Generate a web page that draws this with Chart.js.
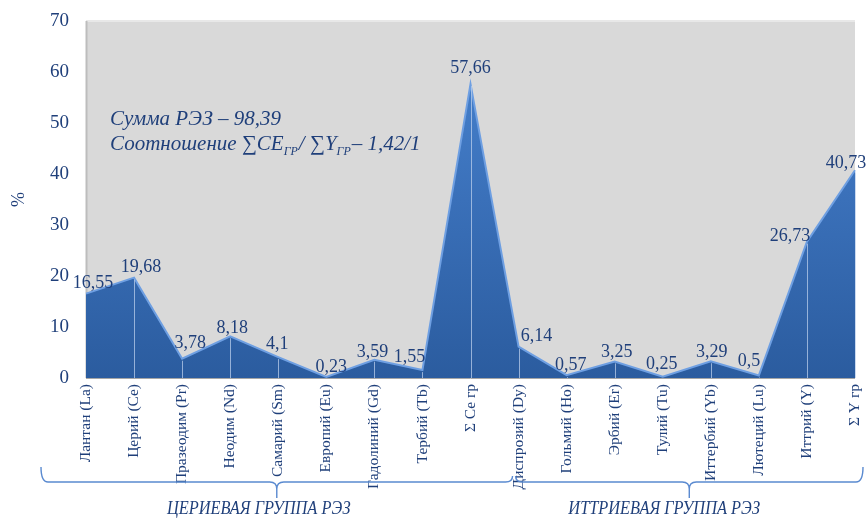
<!DOCTYPE html>
<html>
<head>
<meta charset="utf-8">
<script src="https://cdn.jsdelivr.net/npm/chart.js@4/dist/chart.umd.min.js"></script>
<style>
  html, body { margin: 0; padding: 0; background: #ffffff; }
  #wrap { width: 866px; height: 520px; position: relative; }
</style>
</head>
<body>
<div id="wrap"><canvas id="chart"></canvas></div>
<script>
// Rare-earth elements, share of total, %
const categories = [
  'Лантан (La)', 'Церий (Ce)', 'Празеодим (Pr)', 'Неодим (Nd)', 'Самарий (Sm)',
  'Европий (Eu)', 'Гадолиний (Gd)', 'Тербий (Tb)', 'Σ Ce гр',
  'Диспрозий (Dy)', 'Гольмий (Ho)', 'Эрбий (Er)', 'Тулий (Tu)', 'Иттербий (Yb)',
  'Лютеций (Lu)', 'Иттрий (Y)', 'Σ Y гр'
];
const values = [16.55, 19.68, 3.78, 8.18, 4.1, 0.23, 3.59, 1.55, 57.66,
                6.14, 0.57, 3.25, 0.25, 3.29, 0.5, 26.73, 40.73];
const yMin = 0, yMax = 70, yStep = 10;
const groupNames = ['ЦЕРИЕВАЯ ГРУППА РЭЗ', 'ИТТРИЕВАЯ ГРУППА РЭЗ'];
const firstYttriumIndex = 9;
const summaryLine = 'Сумма РЭЗ – 98,39';

const TEXT = '#1f3f7a';
const SERIF = '"Liberation Serif", "Times New Roman", serif';

// placement tweaks for value labels (dx, dy of label centre relative to the point)
const labelNudge = [
  [7, -10], [7, -10], [8, -15], [2, -8], [-1, -13], [5, -10], [-2, -7], [-13, -13], [0, -16],
  [18, -10], [4, -10], [2, -9], [-1, -12], [1, -9], [-10, -14], [-17, -5], [-9, -7]
];

const backdrop = {
  id: 'backdrop',
  beforeDraw(chart) {
    const { ctx, chartArea: a } = chart;
    ctx.save();
    ctx.fillStyle = '#d9d9d9';
    ctx.fillRect(a.left, a.top, a.right - a.left, a.bottom - a.top);
    ctx.strokeStyle = '#e8e8e8';
    ctx.lineWidth = 2;
    ctx.beginPath();
    ctx.moveTo(a.left, a.top); ctx.lineTo(a.right, a.top);
    ctx.stroke();
    ctx.strokeStyle = '#bdbdbd';
    ctx.beginPath();
    ctx.moveTo(a.left + 0.5, a.top); ctx.lineTo(a.left + 0.5, a.bottom);
    ctx.stroke();
    ctx.restore();
  }
};

const dropLines = {
  id: 'dropLines',
  afterDatasetsDraw(chart) {
    const { ctx, chartArea: a } = chart;
    const meta = chart.getDatasetMeta(0);
    ctx.save();
    ctx.strokeStyle = 'rgba(185,205,235,0.75)';
    ctx.lineWidth = 1;
    meta.data.forEach((pt, i) => {
      if (i === 0) return;
      const x = Math.round(pt.x) + 0.5;
      ctx.beginPath();
      ctx.moveTo(x, pt.y + 2);
      ctx.lineTo(x, a.bottom);
      ctx.stroke();
    });
    // baseline
    ctx.strokeStyle = '#a6a6a6';
    ctx.beginPath();
    ctx.moveTo(a.left, a.bottom + 0.5); ctx.lineTo(a.right, a.bottom + 0.5);
    ctx.stroke();
    ctx.restore();
  }
};

const valueLabels = {
  id: 'valueLabels',
  afterDatasetsDraw(chart) {
    const { ctx } = chart;
    const meta = chart.getDatasetMeta(0);
    ctx.save();
    ctx.font = '18px ' + SERIF;
    ctx.fillStyle = TEXT;
    ctx.textAlign = 'center';
    ctx.textBaseline = 'middle';
    meta.data.forEach((pt, i) => {
      const n = labelNudge[i] || [0, -10];
      ctx.fillText(String(values[i]).replace('.', ','), pt.x + n[0], pt.y + n[1]);
    });
    ctx.restore();
  }
};

const notes = {
  id: 'notes',
  afterDraw(chart) {
    const { ctx, chartArea: a } = chart;
    const xs = chart.scales.x;
    ctx.save();
    ctx.fillStyle = TEXT;
    ctx.textBaseline = 'alphabetic';
    ctx.textAlign = 'left';
    // summary text
    const big = 'italic 21px ' + SERIF, sub = 'italic 12px ' + SERIF;
    let x = a.left + 24, y = a.top + 104;
    ctx.font = big;
    ctx.fillText(summaryLine, x, y);
    y += 25;
    const parts = [
      ['Соотношение ∑CE', big, 0], ['ГР', sub, 5], ['/ ∑Y', big, 0], ['ГР', sub, 5], ['– 1,42/1', big, 0]
    ];
    parts.forEach(([t, f, dy]) => {
      ctx.font = f;
      ctx.fillText(t, x, y + dy);
      x += ctx.measureText(t).width + (dy ? 1 : 0);
    });

    // group braces under the category axis
    const left = a.left - 45;
    const mid = xs.getPixelForValue(firstYttriumIndex) - 5;
    const right = a.right + 8;
    const yLine = 482, yTop = 467, yTip = 498, r = 7;
    ctx.strokeStyle = '#5a8ad0';
    ctx.lineWidth = 1.4;
    const brace = (x0, x1, up0, up1) => {
      const c = (x0 + x1) / 2;
      ctx.beginPath();
      ctx.moveTo(x0, up0);
      ctx.quadraticCurveTo(x0, yLine, x0 + r, yLine);
      ctx.lineTo(c - r, yLine);
      ctx.quadraticCurveTo(c, yLine, c, yLine + r);
      ctx.lineTo(c, yTip);
      ctx.moveTo(c, yLine + r);
      ctx.quadraticCurveTo(c, yLine, c + r, yLine);
      ctx.lineTo(x1 - r, yLine);
      ctx.quadraticCurveTo(x1, yLine, x1, up1);
      ctx.stroke();
      return c;
    };
    const c1 = brace(left, mid - 1, yTop, 476);
    const c2 = brace(mid + 2, right, 476, yTop);
    // group captions, slightly condensed
    ctx.font = 'italic 19px ' + SERIF;
    ctx.textAlign = 'center';
    ctx.textBaseline = 'middle';
    [[groupNames[0], c1 - 18], [groupNames[1], c2 - 25]].forEach(([t, cx]) => {
      ctx.save();
      ctx.translate(cx, 509);
      ctx.scale(0.86, 1);
      ctx.fillText(t, 0, 0);
      ctx.restore();
    });
    ctx.restore();
  }
};

new Chart(document.getElementById('chart'), {
  type: 'line',
  data: {
    labels: categories,
    datasets: [{
      data: values,
      fill: 'origin',
      tension: 0,
      pointRadius: 0,
      borderColor: '#6e9fe2',
      borderWidth: 2,
      backgroundColor(ctx) {
        const a = ctx.chart.chartArea;
        if (!a) return '#3566ad';
        const g = ctx.chart.ctx.createLinearGradient(0, a.top, 0, a.bottom);
        g.addColorStop(0, '#4a86d2');
        g.addColorStop(0.5, '#3a70b9');
        g.addColorStop(1, '#2b5c9f');
        return g;
      }
    }]
  },
  options: {
    responsive: true,
    maintainAspectRatio: false,
    animation: false,
    layout: { padding: { top: 21, right: 11, left: 0, bottom: 0 } },
    plugins: { legend: { display: false }, tooltip: { enabled: false } },
    scales: {
      x: {
        offset: false,
        grid: { display: false, drawTicks: false },
        border: { display: false },
        ticks: {
          autoSkip: false, minRotation: 90, maxRotation: 90, padding: 6,
          color: TEXT, font: { family: SERIF, size: 15.5 }
        },
        afterFit(scale) {
          scale.height = 142;
          scale.paddingLeft = 0;
          scale.paddingRight = 0;
        }
      },
      y: {
        min: yMin, max: yMax,
        grid: { display: false, drawTicks: false },
        border: { display: false },
        ticks: { stepSize: yStep, padding: 17, color: TEXT, font: { family: SERIF, size: 19 } },
        title: { display: true, text: '%', color: TEXT, font: { family: SERIF, size: 18 }, padding: { top: 8, bottom: 0 } },
        afterFit(scale) {
          scale.width = 86;
          scale.paddingTop = 0;
          scale.paddingBottom = 0;
        }
      }
    }
  },
  plugins: [backdrop, dropLines, valueLabels, notes]
});
</script>
</body>
</html>
